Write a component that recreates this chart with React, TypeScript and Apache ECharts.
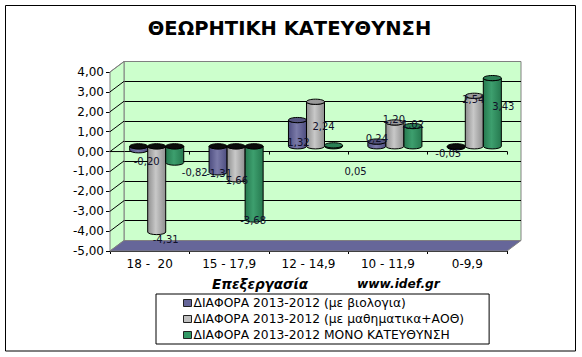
import React, { useEffect, useRef } from "react";
import * as echarts from "echarts";

const categories = ["18 -  20", "15 - 17,9", "12 - 14,9", "10 - 11,9", "0-9,9"];
const seriesNames = [
  "ΔΙΑΦΟΡΑ 2013-2012 (με βιολογια)",
  "ΔΙΑΦΟΡΑ 2013-2012 (με μαθηματικα+ΑΟΘ)",
  "ΔΙΑΦΟΡΑ 2013-2012 ΜΟΝΟ ΚΑΤΕΥΘΥΝΣΗ",
];
const biology = [-0.2, -1.31, 1.32, 0.24, -0.05];
const maths = [-4.31, -1.66, 2.24, 1.2, 2.54];
const direction = [-0.82, -3.68, 0.05, 1.02, 3.43];
const yTicks = [-5, -4, -3, -2, -1, 0, 1, 2, 3, 4];

const depthX = 14;
const depthY = -10.5;
const barShare = 0.227;
const radiusY = 2.6;

// Where Excel put each data label, relative to the tip of its bar.
const labelOffsets = [
  [[8, 11], [1, 1], [1, 22], [0, -3], [-8, 6]],
  [[9, 7], [-1, 1], [8, 25], [-1, -3], [-1, 4]],
  [[20, 10], [-1, 1], [22, 26], [0, -2], [11, 28]],
];
const palette = [
  { base: "#666699", edge: "#4d4d80", mid: "#7a7aa8", top: "#55557f" },
  { base: "#C0C0C0", edge: "#8f8f8f", mid: "#c8c8c8", top: "#9a9a9a" },
  { base: "#339966", edge: "#26794f", mid: "#3d9f6e", top: "#2b8055" },
];

const comma = (v: number) => v.toFixed(2).replace(".", ",");

function cylinder(si: number) {
  return (params: any, api: any) => {
    const cat = api.value(0);
    const val = api.value(1);
    const tip = api.coord([cat, val]);
    const zero = api.coord([cat, 0]);
    const band = api.size([1, 0])[0];
    const w = band * barShare;
    const rx = w / 2;
    const cx = tip[0] + depthX / 2 + (si - 1) * w;
    const yBase = zero[1] + depthY / 2;
    const yTip = tip[1] + depthY / 2;
    const yTop = Math.min(yBase, yTip);
    const yBottom = Math.max(yBase, yTip);
    const c = palette[si];
    const nearZeroNeg = val < 0 && val > -0.1;
    const off = labelOffsets[si][cat];
    return {
      type: "group",
      children: [
        {
          type: "path",
          shape: {
            pathData: `M${cx - rx} ${yTop}L${cx - rx} ${yBottom}A${rx} ${radiusY} 0 0 0 ${cx + rx} ${yBottom}L${cx + rx} ${yTop}A${rx} ${radiusY} 0 0 1 ${cx - rx} ${yTop}Z`,
          },
          style: {
            fill: nearZeroNeg
              ? "#000"
              : {
                  type: "linear", x: 0, y: 0, x2: 1, y2: 0,
                  colorStops: [
                    { offset: 0, color: c.edge },
                    { offset: 0.45, color: c.mid },
                    { offset: 1, color: c.edge },
                  ],
                },
            stroke: "#000",
            lineWidth: 1,
          },
        },
        {
          type: "ellipse",
          shape: { cx, cy: yTop, rx, ry: radiusY },
          style: { fill: val < 0 ? "#0c0c0c" : c.top, stroke: "#000", lineWidth: 1 },
        },
        {
          type: "text",
          z2: 20,
          x: cx + off[0],
          y: yTip + off[1],
          style: {
            text: comma(val),
            fill: "#10102a",
            font: "10px 'DejaVu Sans'",
            align: "center",
            verticalAlign: "middle",
          },
        },
      ],
    };
  };
}

function walls(params: any, api: any) {
  const v = api.value(1);
  const p = api.coord([0, v]);
  const band = api.size([1, 0])[0];
  const x0 = p[0] - band / 2;
  const x1 = api.coord([categories.length - 1, v])[0] + band / 2;
  const y = p[1];
  const top = api.coord([0, yTicks[yTicks.length - 1]])[1];
  const bottom = api.coord([0, yTicks[0]])[1];
  const children: any[] = [];
  if (v === yTicks[0]) {
    children.push({
      type: "polygon",
      shape: { points: [[x0, top], [x0 + depthX, top + depthY], [x0 + depthX, bottom + depthY], [x0, bottom]] },
      style: { fill: "#CCFFCC", stroke: "#808080", lineWidth: 1 },
    });
    children.push({
      type: "polygon",
      shape: { points: [[x0, y], [x0 + depthX, y + depthY], [x1 + depthX, y + depthY], [x1, y]] },
      style: { fill: "#666699", stroke: "#808080", lineWidth: 1 },
    });
  } else {
    const isTop = v === yTicks[yTicks.length - 1];
    children.push({
      type: "line",
      shape: { x1: x0, y1: y, x2: x0 + depthX, y2: y + depthY },
      style: { stroke: isTop ? "#808080" : "#000", lineWidth: 1 },
    });
    if (v === 0) {
      children.push({
        type: "line",
        shape: { x1: x0, y1: y, x2: x0 + depthX, y2: y },
        style: { stroke: "#000", lineWidth: 1 },
      });
    }
  }
  return { type: "group", children };
}

export default function App() {
  const ref = useRef<HTMLDivElement>(null);
  useEffect(() => {
    const chart = echarts.init(ref.current!, null, { renderer: "svg" });
    const values = [biology, maths, direction];
    chart.setOption({
      animation: false,
      backgroundColor: "#fff",
      textStyle: { fontFamily: "'DejaVu Sans'" },
      title: {
        text: "ΘΕΩΡΗΤΙΚΗ ΚΑΤΕΥΘΥΝΣΗ",
        left: 284.5,
        top: 13,
        textAlign: "center",
        textStyle: { fontFamily: "'DejaVu Sans'", fontWeight: "bold", fontSize: 19.5, color: "#000" },
      },
      grid: [
        { left: 110, top: 72, width: 397, height: 179, show: false },
        {
          left: 110 + depthX, top: 72 + depthY, width: 397, height: 179, show: true,
          backgroundColor: "#CCFFCC", borderColor: "#808080", borderWidth: 1,
        },
      ],
      xAxis: [
        {
          type: "category", gridIndex: 0, data: categories,
          axisLine: { onZero: true, lineStyle: { color: "#000" } },
          axisTick: { show: true, length: 3, inside: false, lineStyle: { color: "#000" } },
          axisLabel: { show: false },
        },
        {
          type: "category", gridIndex: 0, data: categories, position: "bottom",
          axisLine: { onZero: false, lineStyle: { color: "#000" } },
          axisTick: { show: true, length: 3, lineStyle: { color: "#000" } },
          axisLabel: { show: true, margin: 7, color: "#000", fontSize: 12, fontFamily: "'DejaVu Sans'" },
        },
        { type: "category", gridIndex: 1, data: categories, show: false },
      ],
      yAxis: [
        {
          type: "value", gridIndex: 0, min: -5, max: 4, interval: 1,
          axisLine: { show: true, lineStyle: { color: "#000" } },
          axisTick: { show: true, length: 4, lineStyle: { color: "#000" } },
          splitLine: { show: false },
          axisLabel: { color: "#000", fontSize: 12, margin: 6, fontFamily: "'DejaVu Sans'", formatter: (v: number) => comma(v) },
        },
        {
          type: "value", gridIndex: 1, min: -5, max: 4, interval: 1,
          axisLine: { show: false }, axisTick: { show: false }, axisLabel: { show: false },
          splitLine: { show: true, showMinLine: false, showMaxLine: false, lineStyle: { color: "#000", width: 1 } },
        },
      ],
      legend: {
        orient: "vertical",
        left: 156,
        top: 294,
        data: seriesNames,
        icon: "rect",
        itemWidth: 8,
        itemHeight: 7,
        itemGap: 4,
        padding: [3, 25, 3, 27],
        borderColor: "#000",
        borderWidth: 1,
        backgroundColor: "#fff",
        selectedMode: false,
        itemStyle: { borderColor: "#222", borderWidth: 1 },
        textStyle: { color: "#000", fontSize: 12.3, fontFamily: "'DejaVu Sans'", padding: [0, 0, 0, -3] },
      },
      graphic: [
        {
          type: "rect",
          shape: { x: 5.5, y: 5.5, width: 570, height: 345.5 },
          style: { fill: "none", stroke: "#000", lineWidth: 1 },
          silent: true,
        },
        {
          type: "text", x: 212, y: 284,
          style: { text: "Επεξεργασία", fill: "#000", font: "italic bold 13.5px 'DejaVu Sans'", verticalAlign: "middle" },
        },
        {
          type: "text", x: 357, y: 284,
          style: { text: "www.idef.gr", fill: "#000", font: "italic bold 12.2px 'DejaVu Sans'", verticalAlign: "middle" },
        },
      ],
      series: [
        {
          type: "custom", name: "walls", xAxisIndex: 0, yAxisIndex: 0, silent: true,
          renderItem: walls, data: yTicks.map((t) => [0, t]), encode: { x: 0, y: 1 },
        },
        ...seriesNames.map((name, si) => ({
          type: "custom",
          name,
          xAxisIndex: 0,
          yAxisIndex: 0,
          itemStyle: { color: palette[si].base },
          renderItem: cylinder(si),
          encode: { x: 0, y: 1 },
          data: values[si].map((v, i) => [i, v]),
        })),
      ],
    });
    return () => chart.dispose();
  }, []);
  return <div ref={ref} style={{ position: "fixed", left: 0, top: 0, width: 582, height: 357 }} />;
}
